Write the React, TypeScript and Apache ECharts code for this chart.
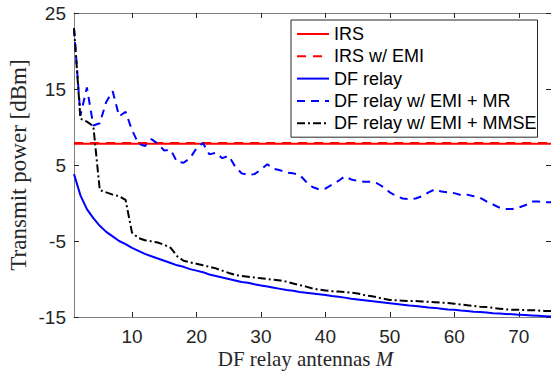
import React, { useEffect, useRef } from "react";
import * as echarts from "echarts";

const antennas = [
  1, 2, 3, 4, 5, 6, 7, 8, 9, 10, 11, 12, 13, 14, 15, 16, 17, 18, 19, 20,
  21, 22, 23, 24, 25, 26, 27, 28, 29, 30, 31, 32, 33, 34, 35, 36, 37, 38, 39, 40,
  41, 42, 43, 44, 45, 46, 47, 48, 49, 50, 51, 52, 53, 54, 55, 56, 57, 58, 59, 60,
  61, 62, 63, 64, 65, 66, 67, 68, 69, 70, 71, 72, 73, 74, 75,
];

const irsEnds = [1, 75];
const irs = [7.8, 7.8];
const irsEmi = [7.9, 7.9];

const dfRelay = [
  3.8, 1.0, -0.8, -2.0, -3.0, -3.8, -4.4, -5.0, -5.4, -5.9, -6.3, -6.7, -7.0, -7.3, -7.6, -7.9, -8.2, -8.4, -8.7, -8.9,
  -9.1, -9.4, -9.6, -9.8, -10.0, -10.2, -10.4, -10.5, -10.7, -10.85, -11.0, -11.15, -11.3, -11.45, -11.55, -11.7, -11.8, -11.9, -12.0, -12.1,
  -12.25, -12.35, -12.45, -12.6, -12.7, -12.8, -12.9, -13.0, -13.1, -13.2, -13.3, -13.4, -13.5, -13.55, -13.65, -13.75, -13.8, -13.9, -14.0, -14.05,
  -14.15, -14.2, -14.3, -14.35, -14.4, -14.5, -14.55, -14.6, -14.65, -14.7, -14.75, -14.8, -14.85, -14.9, -14.95,
];

const dfMr = [
  23.0, 11.5, 15.2, 10.2, 10.5, 13.3, 14.7, 11.4, 12.0, 9.6, 7.8, 7.5, 8.4, 7.8, 6.9, 7.0, 5.4, 5.3, 5.9, 7.2,
  7.9, 6.4, 6.6, 5.9, 6.2, 4.8, 3.9, 3.7, 3.8, 4.4, 5.1, 4.5, 4.3, 4.0, 3.9, 3.7, 2.8, 2.1, 1.8, 1.9,
  2.4, 2.9, 3.5, 3.1, 2.9, 2.8, 2.8, 2.6, 2.1, 1.4, 0.9, 0.6, 0.5, 0.6, 0.9, 1.4, 1.8, 1.5, 1.4, 1.3,
  1.05, 1.1, 0.9, 0.7, 0.2, -0.2, -0.6, -0.8, -0.8, -0.6, -0.3, 0.2, 0.2, 0.1, 0.1,
];

const dfMmse = [
  23.0, 11.1, 10.7, 10.1, 1.7, 1.4, 1.1, 0.9, 0.4, -3.9, -4.6, -4.9, -5.05, -5.2, -5.5, -5.9, -7.0, -7.6, -7.8, -8.0,
  -8.2, -8.4, -8.6, -8.9, -9.2, -9.45, -9.6, -9.7, -9.8, -9.9, -10.0, -10.1, -10.2, -10.35, -10.6, -10.8, -11.0, -11.25, -11.4, -11.5,
  -11.6, -11.65, -11.7, -11.8, -11.9, -12.1, -12.25, -12.4, -12.6, -12.75, -12.8, -12.85, -12.9, -12.9, -12.95, -13.0, -13.05, -13.1, -13.15, -13.25,
  -13.35, -13.45, -13.55, -13.65, -13.7, -13.8, -13.9, -14.0, -14.05, -14.05, -14.1, -14.1, -14.15, -14.2, -14.2,
];

const xTicks = [10, 20, 30, 40, 50, 60, 70];
const yTicks = [-15, -5, 5, 15, 25];

const seriesNames = [
  "IRS",
  "IRS w/ EMI",
  "DF relay",
  "DF relay w/ EMI + MR",
  "DF relay w/ EMI + MMSE",
];

const pair = (xs: number[], ys: number[]) => xs.map((x, i) => [x, ys[i]]);

export default function App() {
  const ref = useRef<HTMLDivElement>(null);
  useEffect(() => {
    if (!ref.current) return;
    const chart = echarts.init(ref.current, null, { renderer: "svg" });
    const axisColor = "#7f7f7f";
    const labelColor = "#262626";
    const sans = "Liberation Sans, Arial, sans-serif";
    const serif = "Liberation Serif, Times New Roman, serif";
    const baseX = {
      type: "value",
      min: 1,
      max: 75,
      splitLine: { show: false },
      axisLine: { show: true, onZero: false, lineStyle: { color: axisColor, width: 1 } },
      axisTick: { show: true, inside: true, length: 5, customValues: xTicks, lineStyle: { color: labelColor } },
    };
    const baseY = {
      type: "value",
      min: -15,
      max: 25,
      splitLine: { show: false },
      axisLine: { show: true, onZero: false, lineStyle: { color: axisColor, width: 1 } },
      axisTick: { show: true, inside: true, length: 5, customValues: yTicks, lineStyle: { color: labelColor } },
    };
    const option = {
      animation: false,
      grid: { left: 74, right: 0, top: 13, bottom: 54, containLabel: false, outerBoundsMode: "none" },
      xAxis: [
        {
          ...baseX,
          position: "bottom",
          axisLabel: {
            customValues: xTicks,
            fontSize: 19,
            lineHeight: 19,
            color: labelColor,
            margin: 9.5,
            fontFamily: sans,
          },
          name: "{a|DF relay antennas }{b|M}",
          nameLocation: "middle",
          nameGap: 31,
          nameMoveOverlap: false,
          nameTextStyle: {
            padding: [0, 14, 0, 0],
            rich: {
              a: { fontSize: 21, lineHeight: 21, fontFamily: serif, color: labelColor },
              b: { fontSize: 21, lineHeight: 21, fontFamily: serif, fontStyle: "italic", color: labelColor },
            },
          },
        },
        { ...baseX, position: "top", axisLabel: { show: false } },
      ],
      yAxis: [
        {
          ...baseY,
          position: "left",
          axisLabel: { customValues: yTicks, fontSize: 19, color: labelColor, margin: 8, fontFamily: sans },
          name: "Transmit power [dBm]",
          nameLocation: "middle",
          nameGap: 44,
          nameMoveOverlap: false,
          nameRotate: 90,
          nameTextStyle: { fontSize: 23, fontFamily: serif, color: labelColor },
        },
        { ...baseY, position: "right", axisLabel: { show: false } },
      ],
      legend: {
        orient: "vertical",
        left: 291,
        top: 20,
        padding: [5, 1, 5, 5],
        itemWidth: 32,
        itemHeight: 14,
        itemGap: 4.3,
        backgroundColor: "#ffffff",
        borderColor: "#262626",
        borderWidth: 1,
        borderRadius: 0,
        itemStyle: { opacity: 0 },
        textStyle: { fontSize: 18, fontFamily: sans, color: "#000", lineHeight: 18 },
        data: seriesNames,
      },
      series: [
        {
          name: seriesNames[0],
          type: "line",
          symbol: "none",
          data: pair(irsEnds, irs),
          lineStyle: { color: "#ff0000", width: 2, type: "solid" },
          itemStyle: { color: "#ff0000" },
        },
        {
          name: seriesNames[1],
          type: "line",
          symbol: "none",
          data: pair(irsEnds, irsEmi),
          lineStyle: { color: "#ff0000", width: 2, type: [9, 7] },
          itemStyle: { color: "#ff0000" },
        },
        {
          name: seriesNames[2],
          type: "line",
          symbol: "none",
          data: pair(antennas, dfRelay),
          lineStyle: { color: "#0000ff", width: 2, type: "solid" },
          itemStyle: { color: "#0000ff" },
        },
        {
          name: seriesNames[3],
          type: "line",
          symbol: "none",
          data: pair(antennas, dfMr),
          lineStyle: { color: "#0000ff", width: 2, type: [8, 6] },
          itemStyle: { color: "#0000ff" },
        },
        {
          name: seriesNames[4],
          type: "line",
          symbol: "none",
          data: pair(antennas, dfMmse),
          lineStyle: { color: "#000000", width: 2, type: [8, 3, 2, 3] },
          itemStyle: { color: "#000000" },
        },
      ],
    };
    chart.setOption(option as any);
    return () => chart.dispose();
  }, []);
  return (
    <div
      ref={ref}
      style={{ position: "fixed", left: 0, top: 0, width: 551, height: 371, background: "#fff" }}
    />
  );
}
